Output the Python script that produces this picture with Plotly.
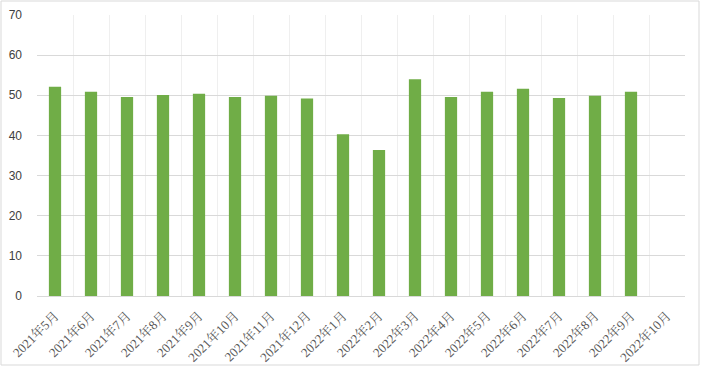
import plotly.graph_objects as go

categories = ["2021年5月", "2021年6月", "2021年7月", "2021年8月", "2021年9月", "2021年10月",
              "2021年11月", "2021年12月", "2022年1月", "2022年2月", "2022年3月", "2022年4月",
              "2022年5月", "2022年6月", "2022年7月", "2022年8月", "2022年9月", "2022年10月"]
values = [52.1, 50.9, 49.6, 50.1, 50.4, 49.6, 49.9, 49.2, 40.3, 36.4, 54.0, 49.6,
          50.9, 51.6, 49.3, 49.9, 50.9, None]
y_ticks = [0, 10, 20, 30, 40, 50, 60, 70]

W, H = 701, 367
ml, mr, mt, mb = 37, 16, 15, 71
pw, ph = W - ml - mr, H - mt - mb

fig = go.Figure(go.Bar(x=categories, y=values, marker_color="#70ad47", marker_line_width=0))

fig.update_layout(
    width=W, height=H,
    margin=dict(l=ml, r=mr, t=mt, b=mb, autoexpand=False),
    paper_bgcolor="white", plot_bgcolor="white",
    bargap=0.66, showlegend=False,
    font=dict(family="Liberation Sans, Noto Sans CJK SC", color="#595959", size=12),
    shapes=[dict(type="rect", xref="paper", yref="paper",
                 x0=(1 - ml) / pw, x1=(W - 2 - ml) / pw,
                 y0=(mt + ph - (H - 2)) / ph, y1=(mt + ph - 1) / ph,
                 line=dict(color="#d9d9d9", width=1), fillcolor="rgba(0,0,0,0)", layer="below")],
)
fig.update_xaxes(
    type="category", tickson="boundaries", showgrid=True, gridcolor="#efefef", gridwidth=1,
    showline=True, linecolor="#d9d9d9", linewidth=1, ticks="", tickangle=-45, automargin=False,
    ticklabelstandoff=6,
    tickfont=dict(family="Liberation Serif, Noto Serif CJK SC, Noto Sans CJK SC", size=13, color="#595959"),
    range=[-0.5, len(categories) - 0.5],
)
fig.update_yaxes(
    range=[0, 70], tickvals=y_ticks, showgrid=True, gridcolor="#d9d9d9", gridwidth=1,
    zeroline=False, showline=False, ticks="", ticklabelstandoff=14, automargin=False,
    tickfont=dict(family="Liberation Sans", size=12, color="#404040"),
)

fig.write_html("out.html", config={"displayModeBar": False},
               post_script="document.body.style.margin='0px';document.body.style.overflow='hidden';")
